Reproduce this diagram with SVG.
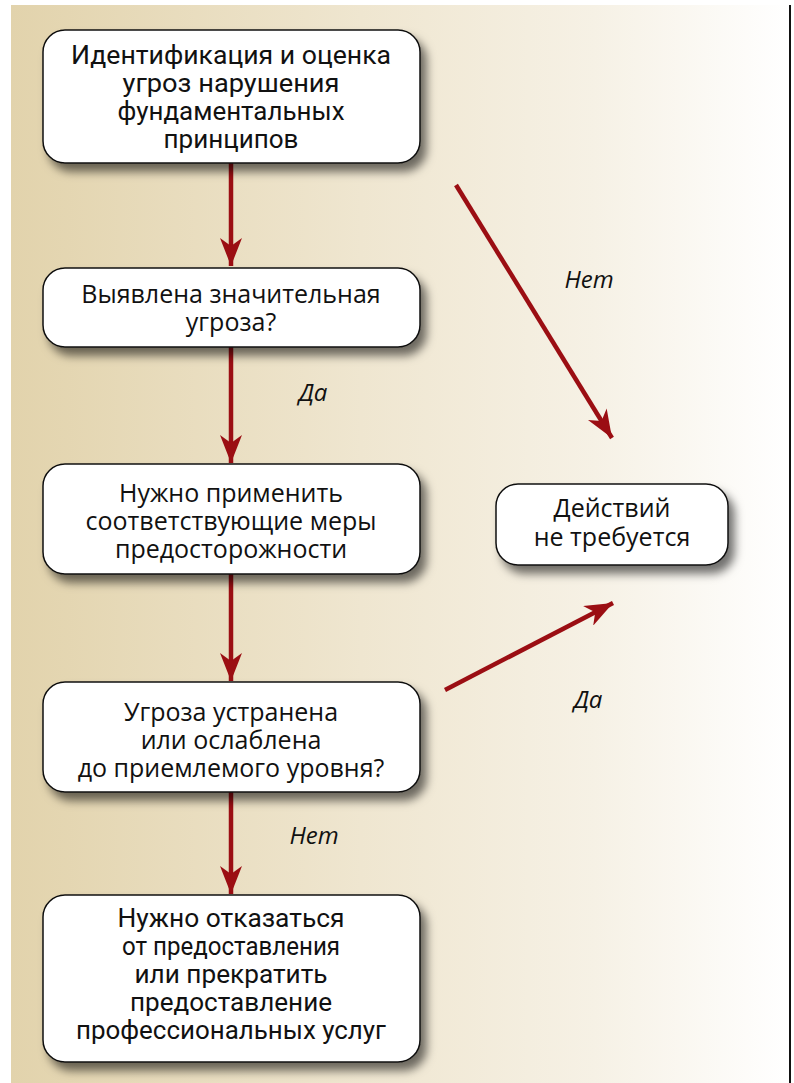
<svg xmlns="http://www.w3.org/2000/svg" width="794" height="1083" viewBox="0 0 794 1083">
<defs>
<linearGradient id="bg" x1="0" y1="0" x2="1" y2="0">
<stop offset="0" stop-color="#e2d3ac"/>
<stop offset="0.45" stop-color="#efe6d0"/>
<stop offset="0.75" stop-color="#f6f1e5"/>
<stop offset="1" stop-color="#ffffff"/>
</linearGradient>
<filter id="sh" x="-10%" y="-10%" width="130%" height="140%">
<feDropShadow dx="6" dy="8" stdDeviation="5" flood-color="#000" flood-opacity="0.55"/>
</filter>
<marker id="ah" viewBox="0 0 28 22" refX="28" refY="11" markerWidth="28" markerHeight="22" markerUnits="userSpaceOnUse" orient="auto">
<path d="M0,0 L28,11 L0,22 L8,11 Z" fill="#9b0e13"/>
</marker>
<style>
.box{fill:#fff;stroke:#111;stroke-width:1.5;filter:url(#sh)}
.t{font-family:"Open Sans","Noto Sans",sans-serif;font-size:25px;fill:#111;text-anchor:middle}
.n{font-family:Roboto,"Open Sans",sans-serif;font-size:26px;fill:#111;text-anchor:middle}
.lbl{font-family:"Open Sans","Noto Sans",sans-serif;font-style:italic;font-size:24px;fill:#111;text-anchor:middle}
.c{stroke:#9b0e13;stroke-width:4.5;fill:none;marker-end:url(#ah)}
</style>
</defs>
<rect x="11" y="5" width="778" height="1078" fill="url(#bg)"/>
<line x1="790" y1="5" x2="790" y2="1083" stroke="#111" stroke-width="2"/>
<g id="connectors">
<line class="c" x1="231" y1="163" x2="231" y2="266"/>
<line class="c" x1="231" y1="347" x2="231" y2="463"/>
<line class="c" x1="231" y1="574" x2="231" y2="681"/>
<line class="c" x1="231" y1="792" x2="231" y2="894"/>
<line class="c" x1="456" y1="185" x2="612" y2="438"/>
<line class="c" x1="445" y1="690" x2="613" y2="603"/>
</g>
<g id="labels">
<text class="lbl" x="589" y="288">Нет</text>
<text class="lbl" x="313" y="401">Да</text>
<text class="lbl" x="588" y="708">Да</text>
<text class="lbl" x="314" y="844">Нет</text>
</g>
<g id="n1">
<rect class="box" x="43" y="30" width="377" height="133" rx="22"/>
<text class="n" x="231" y="64" textLength="320" lengthAdjust="spacingAndGlyphs">Идентификация и оценка</text>
<text class="n" x="231" y="92" textLength="217" lengthAdjust="spacingAndGlyphs">угроз нарушения</text>
<text class="n" x="231" y="120" textLength="227" lengthAdjust="spacingAndGlyphs">фундаментальных</text>
<text class="n" x="231" y="148" textLength="135" lengthAdjust="spacingAndGlyphs">принципов</text>
</g>
<g id="n2">
<rect class="box" x="43" y="268" width="377" height="79" rx="22"/>
<text class="t" x="231" y="303">Выявлена значительная</text>
<text class="t" x="231" y="331">угроза?</text>
</g>
<g id="n3">
<rect class="box" x="43" y="464" width="377" height="110" rx="22"/>
<text class="t" x="231" y="502">Нужно применить</text>
<text class="t" x="231" y="530">соответствующие меры</text>
<text class="t" x="231" y="558">предосторожности</text>
</g>
<g id="n4">
<rect class="box" x="43" y="682" width="377" height="110" rx="22"/>
<text class="t" x="231" y="721">Угроза устранена</text>
<text class="t" x="231" y="749">или ослаблена</text>
<text class="t" x="231" y="777">до приемлемого уровня?</text>
</g>
<g id="n5">
<rect class="box" x="43" y="895" width="377" height="167" rx="22"/>
<text class="n" x="231" y="927" textLength="227" lengthAdjust="spacingAndGlyphs">Нужно отказаться</text>
<text class="n" x="231" y="955" textLength="218" lengthAdjust="spacingAndGlyphs">от предоставления</text>
<text class="n" x="231" y="983" textLength="193" lengthAdjust="spacingAndGlyphs">или прекратить</text>
<text class="n" x="231" y="1011" textLength="202" lengthAdjust="spacingAndGlyphs">предоставление</text>
<text class="n" x="231" y="1039" textLength="310" lengthAdjust="spacingAndGlyphs">профессиональных услуг</text>
</g>
<g id="n6">
<rect class="box" x="496" y="484" width="232" height="81" rx="22"/>
<text class="t" x="612" y="517">Действий</text>
<text class="t" x="612" y="546">не требуется</text>
</g>
</svg>
